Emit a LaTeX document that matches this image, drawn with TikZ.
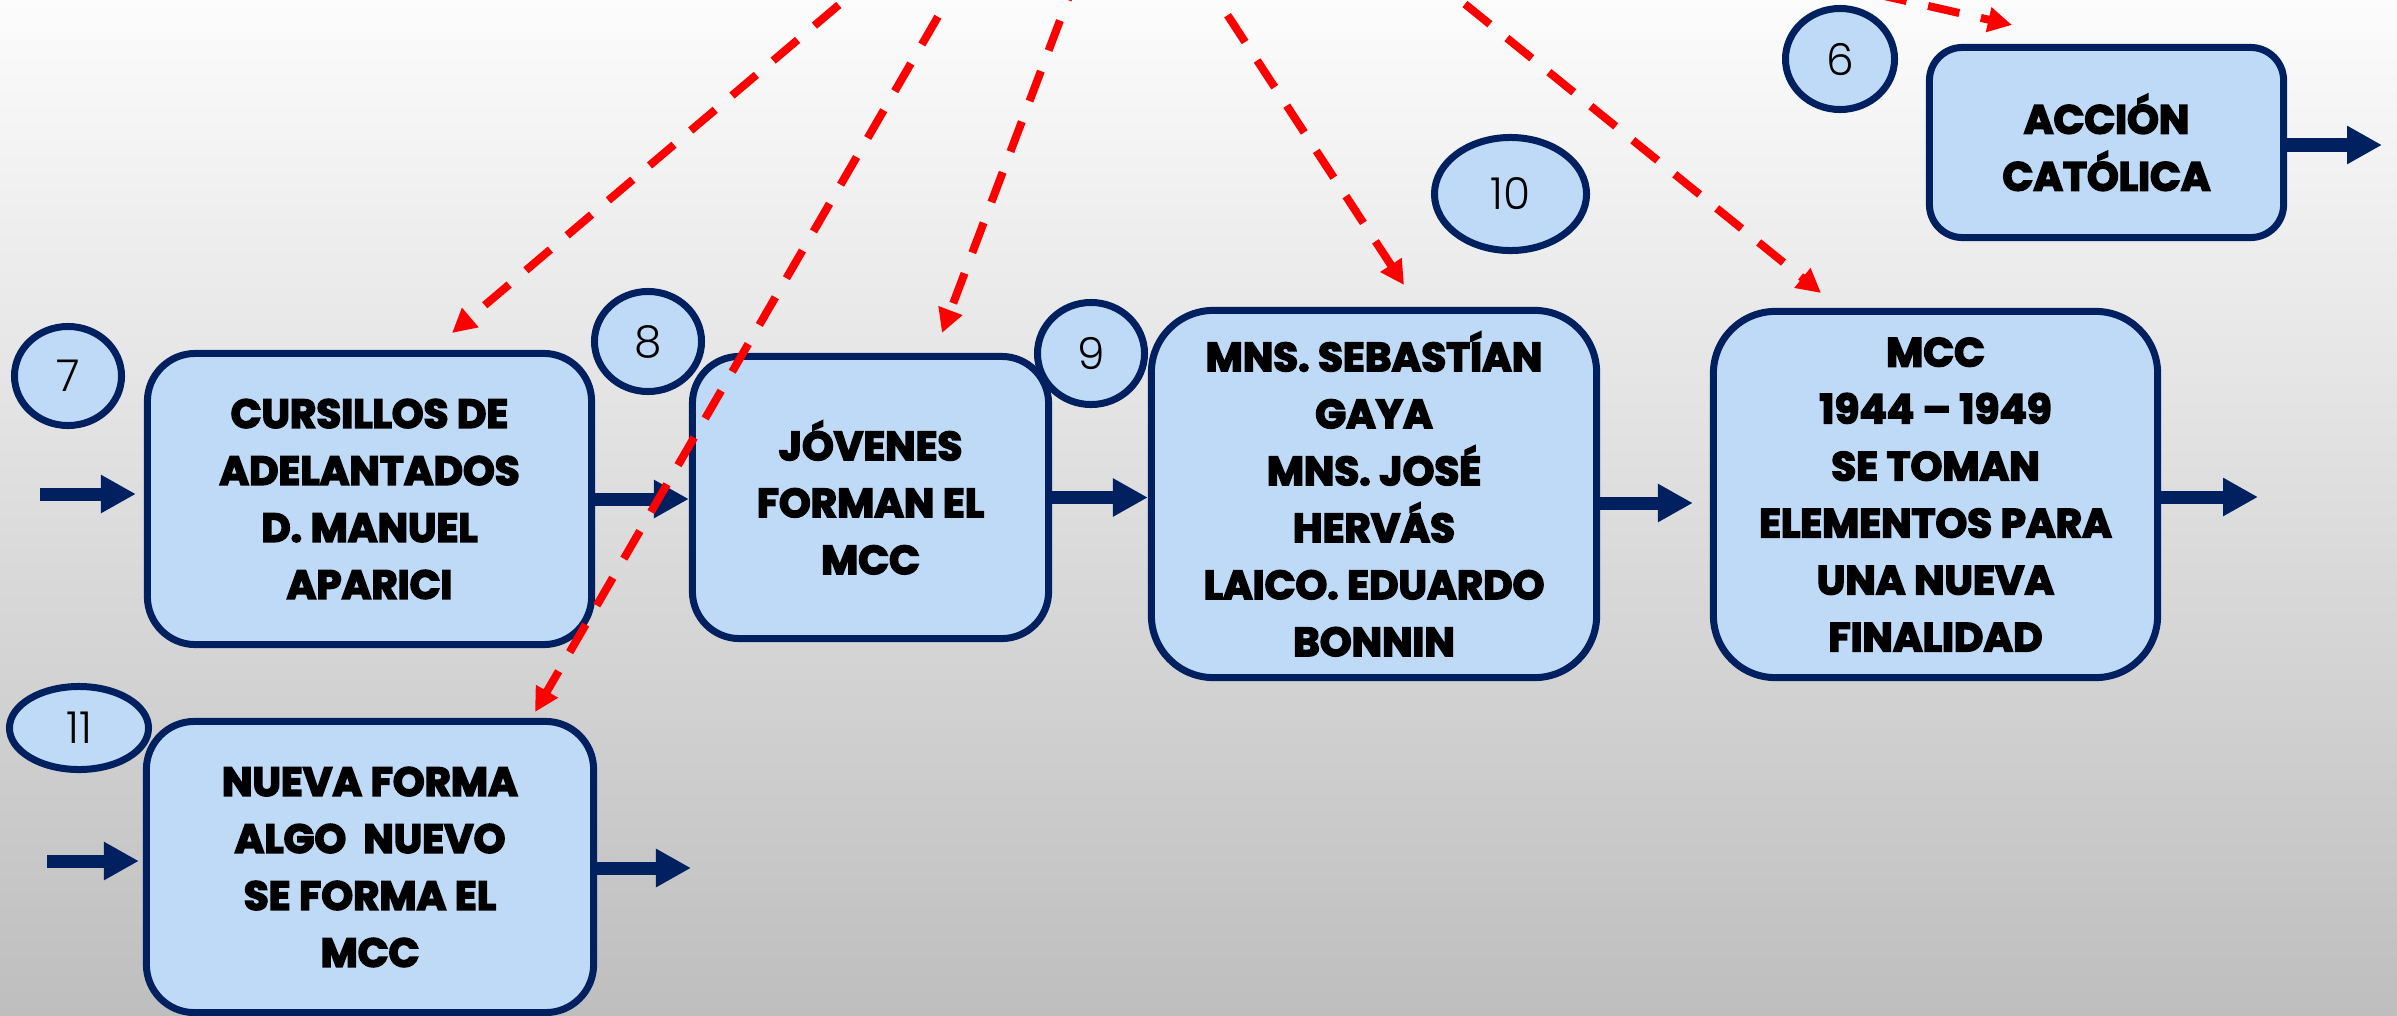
\documentclass[tikz,border=0pt]{standalone}
\usepackage{fontspec}
\setmainfont{Poppins}[BoldFeatures={FakeBold=4}]
\newfontfamily\numfam{Poppins Light}
\usetikzlibrary{shapes.geometric,arrows.meta,calc}
\definecolor{navy}{RGB}{0,32,96}
\definecolor{boxblue}{RGB}{190,218,246}
\definecolor{linkred}{RGB}{255,0,0}
\definecolor{bgtop}{RGB}{252,252,252}
\definecolor{bgmid}{RGB}{232,232,232}
\definecolor{bgbot}{RGB}{190,190,190}
\newcommand{\boxfont}{\bfseries\fontsize{11.5}{16.2}\selectfont}
\newcommand{\numfont}{\numfam\fontsize{12.5}{14}\selectfont}
\tikzset{
  box/.style={draw=navy, fill=boxblue, line width=0.07cm, align=center, font=\boxfont, inner sep=0pt, text=black},
  num/.style={ellipse, draw=navy, fill=boxblue, line width=0.07cm, font=\numfont, inner sep=0pt, text=black},
  flow/.style={draw=navy, line width=0.13cm, -{Triangle[length=0.35cm,width=0.36cm]}},
  link/.style={draw=linkred, line width=0.08cm, dash pattern=on 0.32cm off 0.22cm, -{Triangle[length=0.24cm,width=0.24cm]}},
}
\begin{document}
\begin{tikzpicture}[x=0.01cm,y=-0.01cm]
\useasboundingbox (0,0) rectangle (2397,1015);
\clip (0,0) rectangle (2397,1015);
\shade[top color=bgtop, middle color=bgmid, bottom color=bgbot] (0,0) rectangle (2397,1015);

% boxes
\node[box, minimum width=4.44cm, minimum height=2.91cm, rounded corners=0.48cm] (b1) at (369.5,499)
  {CURSILLOS DE\\ADELANTADOS\\D. MANUEL\\APARICI};
\node[box, minimum width=3.56cm, minimum height=2.82cm, rounded corners=0.47cm] (b2) at (870.5,497.5)
  {JÓVENES\\FORMAN EL\\MCC};
\node[box, minimum width=4.45cm, minimum height=3.67cm, rounded corners=0.62cm] (b3) at (1374,494)
  {MNS. SEBASTÍAN\\GAYA\\MNS. JOSÉ\\HERVÁS\\LAICO. EDUARDO\\BONNIN};
\node[box, minimum width=4.44cm, minimum height=3.66cm, rounded corners=0.62cm] (b4) at (1935.5,494.5)
  {MCC\\1944 – 1949\\SE TOMAN\\ELEMENTOS PARA\\UNA NUEVA\\FINALIDAD};
\node[box, minimum width=3.54cm, minimum height=1.90cm, rounded corners=0.33cm] (b5) at (2106.5,142.5)
  {ACCIÓN\\CATÓLICA};
\node[box, minimum width=4.47cm, minimum height=2.91cm, rounded corners=0.48cm] (b6) at (370,867)
  {NUEVA FORMA\\ALGO\ \ NUEVO\\SE FORMA EL\\MCC};

% numbers
\node[num, minimum width=1.07cm, minimum height=0.99cm] (n7) at (68,376) {7};
\node[num, minimum width=1.07cm, minimum height=1.00cm] (n8) at (648,341.5) {8};
\node[num, minimum width=1.07cm, minimum height=1.02cm] (n9) at (1091,353.5) {9};
\node[num, minimum width=1.52cm, minimum height=1.13cm] (n10) at (1510.5,194) {10};
\node[num, minimum width=1.09cm, minimum height=1.01cm] (n6) at (1840,59) {6};
\node[num, minimum width=1.39cm, minimum height=0.83cm] (n11) at (79,728) {11};

% flow arrows
\coordinate (in1) at (40,494);
\coordinate (in6) at (47,861);
\coordinate (out4) at (2258,497);
\coordinate (out5) at (2382,145);
\coordinate (out6) at (691,868);
\draw[flow, shorten >=0.08cm] (in1) -- (in1 -| b1.west);
\draw[flow] (b1.east) -- (b1.east -| b2.west);
\draw[flow] (b2.east) -- (b2.east -| b3.west);
\draw[flow, shorten >=0.17cm] ($(b3.east)+(0,9)$) -- ($(b3.east -| b4.west)+(0,9)$);
\draw[flow] (b4.east |- out4) -- (out4);
\draw[flow] (b5.east |- out5) -- (out5);
\draw[flow, shorten >=0.04cm] (in6) -- (in6 -| b6.west);
\draw[flow] (b6.east |- out6) -- (out6);

% red dashed links
\coordinate (s1) at (880,-30);  \coordinate (t1) at (452,333);
\coordinate (s2) at (965,-30);  \coordinate (t2) at (535,712);
\coordinate (s3) at (1079,-30); \coordinate (t3) at (942,333);
\coordinate (s4) at (1198,-30); \coordinate (t4) at (1404,285);
\coordinate (s5) at (1423,-30); \coordinate (t5) at (1821,293);
\coordinate (s6) at (1770,-30); \coordinate (t6) at (2012,25);
\draw[link] (s1) -- (t1);
\draw[link] (s2) -- (t2);
\draw[link] (s3) -- (t3);
\draw[link] (s4) -- (t4);
\draw[link] (s5) -- (t5);
\draw[link] (s6) -- (t6);
\end{tikzpicture}
\end{document}
